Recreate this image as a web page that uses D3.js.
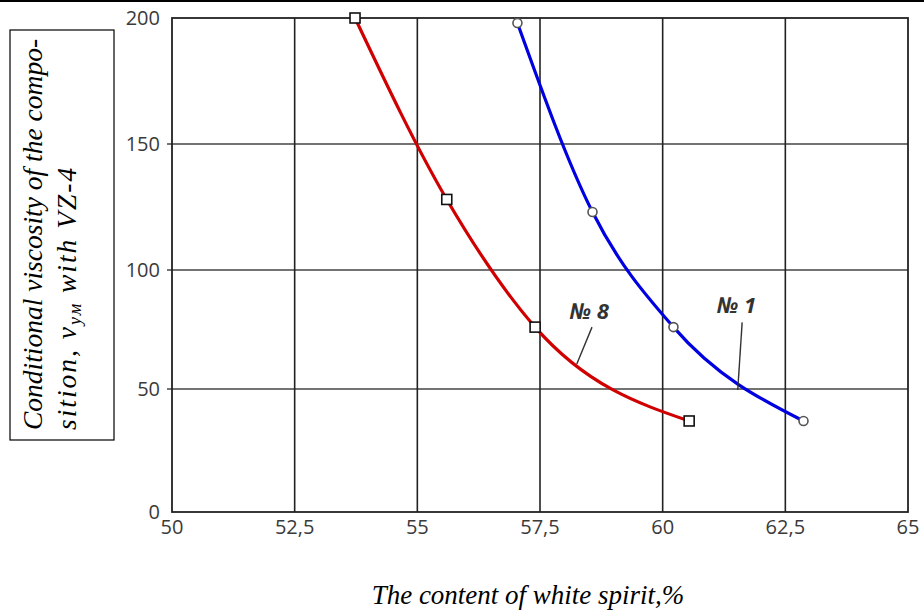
<!DOCTYPE html>
<html>
<head>
<meta charset="utf-8">
<script src="https://cdn.jsdelivr.net/npm/d3@7"></script>
<style>
  body { margin: 0; background: #fff; }
  svg { display: block; }
</style>
</head>
<body>
<div id="chart"></div>
<script>
// axis ticks
const xTicks = [50, 52.5, 55, 57.5, 60, 62.5, 65];
const xTickLabels = ["50", "52,5", "55", "57,5", "60", "62,5", "65"];
const yTicks = [0, 50, 100, 150, 200];
const yTickLabels = ["0", "50", "100", "150", "200"];

// series No 8 (red, squares)
const content8 = [53.73, 55.6, 57.4, 60.54];
const visc8 = [200, 128, 76, 37];
// series No 1 (blue, circles)
const content1 = [57.04, 58.57, 60.22, 62.87];
const visc1 = [198, 123, 76, 37];

const seriesNames = ["№ 8", "№ 1"];
// label text anchor and leader line, in data units
const labelAt = [[58.1, 79.4], [61.1, 81.9]];
const leaderFrom = [[58.56, 76], [61.62, 78]];
const leaderTo = [[58.25, 60.5], [61.53, 49.6]];

const width = 924, height = 611;
const plotLeft = 172, plotRight = 908, plotTop = 18, plotBottom = 512;

let svg = d3.select("#chart").append("svg")
    .attr("width", width)
    .attr("height", height);

// x is linear, y follows the drawn grid (it is slightly uneven in the original)
let xScale = d3.scaleLinear().domain([50, 65]).range([plotLeft, plotRight]);
let yScale = d3.scaleLinear().domain(yTicks).range([plotBottom, 389, 270, 144, plotTop]);

// top border of the page
svg.append("line")
    .attr("x1", 0).attr("x2", width)
    .attr("y1", 1).attr("y2", 1)
    .style("stroke", "#000").style("stroke-width", 2);

// grid
svg.append("g").selectAll("line").data(yTicks.slice(1, 4)).enter().append("line")
    .attr("x1", plotLeft - 5).attr("x2", plotRight)
    .attr("y1", d => yScale(d)).attr("y2", d => yScale(d))
    .style("stroke", "#444").style("stroke-width", 1.6);

svg.append("g").selectAll("line").data(xTicks.slice(1, 6)).enter().append("line")
    .attr("x1", d => xScale(d)).attr("x2", d => xScale(d))
    .attr("y1", plotTop).attr("y2", plotBottom)
    .style("stroke", "#222").style("stroke-width", 1.6);

// frame
svg.append("rect")
    .attr("x", plotLeft).attr("y", plotTop)
    .attr("width", plotRight - plotLeft).attr("height", plotBottom - plotTop)
    .style("fill", "none").style("stroke", "#222").style("stroke-width", 1.8);

// tick labels
svg.append("g").selectAll("text").data(yTicks).enter().append("text")
    .attr("x", plotLeft - 12)
    .attr("y", d => yScale(d))
    .attr("dy", "0.36em")
    .attr("text-anchor", "end")
    .style("font-family", "'Open Sans', sans-serif")
    .style("font-size", "20px")
    .style("fill", "#3a3a3a")
    .text((d, i) => yTickLabels[i]);

svg.append("g").selectAll("text").data(xTicks).enter().append("text")
    .attr("x", d => xScale(d))
    .attr("y", plotBottom + 22)
    .attr("text-anchor", "middle")
    .style("font-family", "'Open Sans', sans-serif")
    .style("font-size", "20px")
    .style("fill", "#3a3a3a")
    .text((d, i) => xTickLabels[i]);

// curves
let line = d3.line()
    .x(d => xScale(d[0]))
    .y(d => yScale(d[1]))
    .curve(d3.curveMonotoneX);

let pts8 = content8.map((c, i) => [c, visc8[i]]);
let pts1 = content1.map((c, i) => [c, visc1[i]]);

svg.append("path").datum(pts8)
    .attr("d", line)
    .style("fill", "none").style("stroke", "#d00000").style("stroke-width", 3.2);

svg.append("path").datum(pts1)
    .attr("d", line)
    .style("fill", "none").style("stroke", "#0000e0").style("stroke-width", 3.2);

// markers
svg.append("g").selectAll("rect").data(pts8).enter().append("rect")
    .attr("x", d => xScale(d[0]) - 5)
    .attr("y", d => yScale(d[1]) - 5)
    .attr("width", 10).attr("height", 10)
    .style("fill", "#fff").style("stroke", "#111").style("stroke-width", 1.6);

svg.append("g").selectAll("circle").data(pts1).enter().append("circle")
    .attr("cx", d => xScale(d[0]))
    .attr("cy", d => yScale(d[1]))
    .attr("r", 4.5)
    .style("fill", "#fff").style("stroke", "#555").style("stroke-width", 1.6);

// series labels with leader lines
for (let i = 0; i < seriesNames.length; i++) {
    svg.append("line")
        .attr("x1", xScale(leaderFrom[i][0])).attr("y1", yScale(leaderFrom[i][1]))
        .attr("x2", xScale(leaderTo[i][0])).attr("y2", yScale(leaderTo[i][1]))
        .style("stroke", "#333").style("stroke-width", 1.4);
    svg.append("text")
        .attr("x", xScale(labelAt[i][0]))
        .attr("y", yScale(labelAt[i][1]))
        .style("font-family", "'Open Sans', sans-serif")
        .style("font-size", "22px")
        .style("font-weight", "bold")
        .style("font-style", "italic")
        .style("fill", "#333")
        .text(seriesNames[i]);
}

// y axis title in a box
svg.append("rect")
    .attr("x", 10).attr("y", 30)
    .attr("width", 104).attr("height", 410)
    .style("fill", "none").style("stroke", "#000").style("stroke-width", 1.2);

let ytitle = svg.append("text")
    .attr("transform", "translate(42,430) rotate(-90)")
    .style("font-family", "'Liberation Serif', 'Times New Roman', serif")
    .style("font-size", "27.5px")
    .style("font-style", "italic")
    .style("fill", "#000");
ytitle.append("tspan").attr("x", 0).attr("y", 0).text("Conditional viscosity of the compo-");
let line2 = ytitle.append("tspan").attr("x", 0).attr("y", 34).style("letter-spacing", "2px");
line2.append("tspan").text("sition, ν");
line2.append("tspan").attr("dy", 5).style("font-size", "18px").text("ум");
line2.append("tspan").attr("dy", -5).text(" with VZ-4");

// x axis title
svg.append("text")
    .attr("x", 528).attr("y", 604)
    .attr("text-anchor", "middle")
    .style("font-family", "'Liberation Serif', 'Times New Roman', serif")
    .style("font-size", "27px")
    .style("font-style", "italic")
    .style("fill", "#000")
    .text("The content of white spirit,%");
</script>
</body>
</html>
